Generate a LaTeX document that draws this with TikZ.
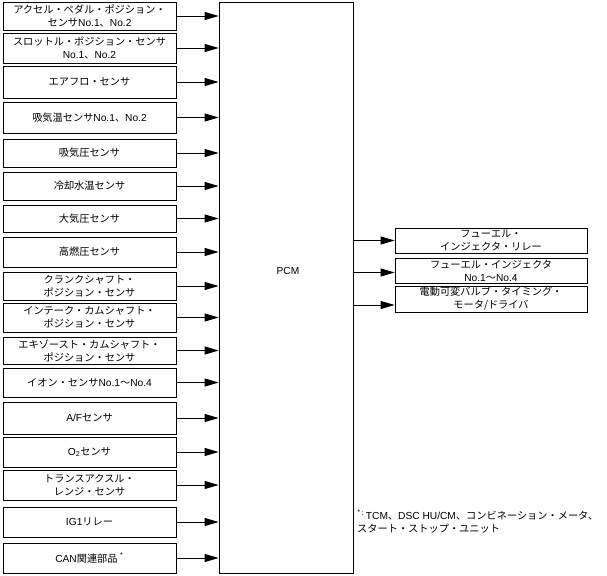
\documentclass[tikz,border=0pt]{standalone}
\usepackage{fontspec}
\setmainfont{Noto Sans CJK JP}
\newfontfamily\latf{Liberation Sans}
\newcommand\La[1]{{\latf #1}}
\usetikzlibrary{arrows.meta}
\tikzset{
  box/.style={draw, line width=0.8pt, inner sep=0pt, align=center,
    font=\fontsize{10.2}{13}\selectfont},
  lbox/.style={box, minimum width=173pt},
  rbox/.style={box, minimum width=192pt},
  arr/.style={line width=0.8pt, -{Triangle[length=14pt,width=8pt]}},
  txt/.style={inner sep=0pt, font=\fontsize{10.2}{13}\selectfont}
}
\newcommand\lb[4]{\node[lbox, minimum height=#3pt] (#1) at (89.5,#2) {#4};}
\begin{document}
\begin{tikzpicture}[x=1pt,y=-1pt]
\useasboundingbox (0,0) rectangle (607,575);
% PCM
\node[draw, line width=0.8pt, minimum width=134pt, minimum height=571pt, inner sep=0pt] (pcm) at (286,287.5) {};
\node[txt] (pcmlabel) at (288,271) {\La{PCM}};
% inputs
\lb{l1}{16}{28}{アクセル・ペダル・ポジション・\\センサ\La{No.1}、\La{No.2}}
\lb{l2}{48}{30}{スロットル・ポジション・センサ\\\La{No.1}、\La{No.2}}
\lb{l3}{82}{32}{エアフロ・センサ}
\lb{l4}{117.5}{31}{吸気温センサ\La{No.1}、\La{No.2}}
\lb{l5}{153}{28}{吸気圧センサ}
\lb{l6}{186}{28}{冷却水温センサ}
\lb{l7}{218.5}{27}{大気圧センサ}
\lb{l8}{252}{30}{高燃圧センサ}
\lb{l9}{286}{28}{クランクシャフト・\\ポジション・センサ}
\lb{l10}{317.5}{29}{インテーク・カムシャフト・\\ポジション・センサ}
\lb{l11}{350.5}{27}{エキゾースト・カムシャフト・\\ポジション・センサ}
\lb{l12}{382.5}{29}{イオン・センサ\La{No.1}〜\La{No.4}}
\lb{l13}{418}{32}{\La{A/F}センサ}
\lb{l14}{452}{30}{\La{O\textsubscript{2}}センサ}
\lb{l15}{485}{30}{トランスアクスル・\\レンジ・センサ}
\lb{l16}{522}{30}{\La{IG1}リレー}
\lb{l17}{558}{30}{\La{CAN}関連部品 \textsuperscript{*}}
\foreach \i in {1,...,17}{
  \draw[arr] (l\i.east) -- (l\i.east -| pcm.west);
}
% outputs
\node[rbox, minimum height=25pt] (r1) at (491,240.5) {フューエル・\\インジェクタ・リレー};
\node[rbox, minimum height=25pt] (r2) at (491,270.5) {フューエル・インジェクタ\\\La{No.1}〜\La{No.4}};
\node[rbox, minimum height=26pt] (r3) at (491,299) {電動可変バルブ・タイミング・\\モータ/ドライバ};
\coordinate (r2in) at ([yshift=-2pt]r2.west);
\coordinate (r3in) at ([yshift=-6pt]r3.west);
\draw[arr] (pcm.east |- r1.west) -- (r1.west);
\draw[arr] (pcm.east |- r2in) -- (r2in);
\draw[arr] (pcm.east |- r3in) -- (r3in);
% footnote
\node[txt, anchor=north west, align=left, font=\fontsize{10.2}{12.5}\selectfont] (note) at (357,510)
  {\textsuperscript{*\,:}\,\La{TCM}、\La{DSC HU/CM}、コンビネーション・メータ、\\スタート・ストップ・ユニット};
\end{tikzpicture}
\end{document}
